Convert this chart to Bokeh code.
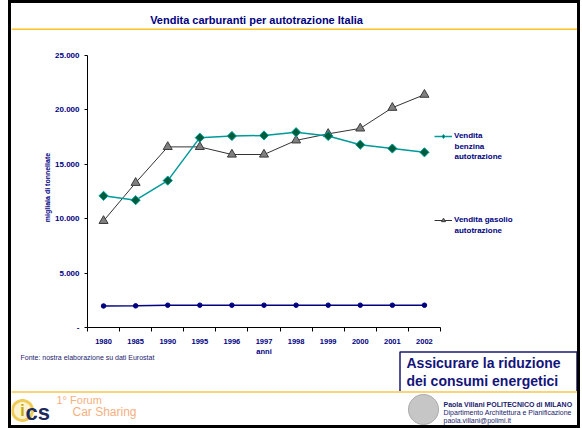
import math
from bokeh.plotting import figure
from bokeh.layouts import column, row, Spacer
from bokeh.models import (Range1d, LinearAxis, FixedTicker, Label, BoxAnnotation,
                          PolyAnnotation, Legend, LegendItem, Div)
from bokeh.embed import file_html
from bokeh.resources import INLINE

# ---------------- data ----------------
years = ["1980", "1985", "1990", "1995", "1996", "1997", "1998", "1999", "2000", "2001", "2002"]
benzina = [12100, 11700, 13500, 17450, 17600, 17650, 17950, 17600, 16800, 16450, 16100]
gasolio = [9800, 13300, 16600, 16600, 15900, 15900, 17200, 17800, 18300, 20200, 21400]
altro = [1980, 1990, 2050, 2050, 2050, 2050, 2050, 2050, 2050, 2050, 2050]
y_ticks = [0, 5000, 10000, 15000, 20000, 25000]
y_tick_labels = ["-", "5.000", "10.000", "15.000", "20.000", "25.000"]
legend_benzina = ["Vendita", "benzina", "autotrazione"]
legend_gasolio = ["Vendita gasolio", "autotrazione"]
title_text = "Vendita carburanti per autotrazione Italia"
x_title = "anni"
y_title = "migliaia di tonnellate"
source_text = "Fonte: nostra elaborazione su dati Eurostat"
box_lines = ["Assicurare la riduzione", "dei consumi energetici"]
footer_lines = ["Paola Villani POLITECNICO di MILANO",
                "Dipartimento Architettura e Pianificazione",
                "paola.villani@polimi.it"]
logo_lines = ["1° Forum", "Car Sharing"]

# ---------------- layout constants (page pixels) ----------------
PAGE_H = 428
IN_X0, IN_X1 = 11, 577      # inside of the slide frame
IN_Y0, IN_Y1 = 3, 425
TOP_Y = 47                  # chart band top
MID_Y = 346                 # chart band bottom
FRAME_L, FRAME_B = 87, 327
Y_25K = 55                  # pixel row of 25000
PX_CAT = 32.09
NAVY = "#000080"
TXT = "#1a1a6e"
FONT = "Liberation Sans"


def solid(w, h, color):
    html = f'<div style="width:{w}px;height:{h}px;background:{color};margin:0;padding:0"></div>'
    return Div(text=html, width=w, height=h, margin=0,
               styles={"background-color": color, "overflow": "hidden"})


def deco(x0, x1, y0, y1):
    f = figure(width=x1 - x0, height=y1 - y0, x_range=Range1d(x0, x1),
               y_range=Range1d(y1, y0), x_axis_type=None, y_axis_type=None,
               toolbar_location=None, output_backend="svg", min_border=0)
    f.outline_line_color = None
    f.background_fill_color = "white"
    f.border_fill_color = "white"
    return f


def box(f, l, r, t, b, color):
    f.add_layout(BoxAnnotation(left=l, right=r, top=t, bottom=b, fill_color=color,
                               fill_alpha=1, line_color=None))


def label(f, x, y, text, size, color=TXT, bold=False, align="left", baseline="middle"):
    f.add_layout(Label(x=x, y=y, text=text, text_font=FONT, text_font_size=size,
                       text_font_style="bold" if bold else "normal",
                       text_color=color, text_align=align, text_baseline=baseline))


def disc(f, cx, cy, r, fill, line=None):
    n = 48
    px = [cx + r * math.cos(2 * math.pi * k / n) for k in range(n)]
    py = [cy + r * math.sin(2 * math.pi * k / n) for k in range(n)]
    f.add_layout(PolyAnnotation(xs=px, ys=py, fill_color=fill, fill_alpha=1,
                                line_color=line if line else "white",
                                line_alpha=1 if line else 0, line_width=1))


# ---------------- top band ----------------
T = deco(IN_X0, IN_X1, IN_Y0, TOP_Y)
box(T, IN_X0, IN_X1, 28, 29.6, "#FFC125")
label(T, 256, 19, title_text, "11px", color=NAVY, bold=True, align="center")

# ---------------- chart ----------------
FW = IN_X1 - FRAME_L
FH = FRAME_B - TOP_Y
x_range = Range1d(-0.5, -0.5 + FW / PX_CAT)
y_range = Range1d(0, 25000 * FH / (FRAME_B - Y_25K))

C = figure(width=IN_X1 - IN_X0, height=MID_Y - TOP_Y, x_range=x_range, y_range=y_range,
           x_axis_type=None, y_axis_type=None, toolbar_location=None,
           output_backend="svg", min_border_left=FRAME_L - IN_X0, min_border_right=0,
           min_border_top=0, min_border_bottom=MID_Y - FRAME_B)
C.outline_line_color = None
C.background_fill_color = "white"
C.border_fill_color = "white"

xaxis = LinearAxis(bounds=(-0.5, len(years) - 0.5),
                   ticker=FixedTicker(ticks=list(range(len(years))),
                                      minor_ticks=[i - 0.5 for i in range(len(years) + 1)]),
                   major_label_overrides={i: y for i, y in enumerate(years)},
                   major_tick_out=0, major_tick_in=0, minor_tick_out=4, minor_tick_in=0,
                   axis_line_color="black", major_tick_line_color="black",
                   minor_tick_line_color="black", major_label_standoff=7,
                   major_label_text_font=FONT, major_label_text_font_style="bold",
                   major_label_text_font_size="7.5px", major_label_text_color=NAVY)
C.add_layout(xaxis, "below")

yaxis = LinearAxis(bounds=(0, 25000),
                   ticker=FixedTicker(ticks=y_ticks, minor_ticks=[]),
                   major_label_overrides=dict(zip(y_ticks, y_tick_labels)),
                   major_tick_out=3, major_tick_in=0, minor_tick_out=0, minor_tick_in=0,
                   axis_line_color="black", major_tick_line_color="black",
                   major_label_standoff=5,
                   major_label_text_font=FONT, major_label_text_font_style="bold",
                   major_label_text_font_size="8px", major_label_text_color=NAVY,
                   axis_label=y_title, axis_label_standoff=1,
                   axis_label_text_font=FONT, axis_label_text_font_style="bold",
                   axis_label_text_font_size="7px", axis_label_text_color=NAVY)
C.add_layout(yaxis, "left")

xs = list(range(len(years)))
C.line(xs, altro, color=NAVY, line_width=1.5)
C.scatter(xs, altro, marker="circle", size=4.5, fill_color=NAVY, line_color=NAVY)
l2 = C.line(xs, gasolio, color="#333333", line_width=1)
s2 = C.scatter(xs, gasolio, marker="triangle", size=9, fill_color="#808080",
               line_color="#3a3a3a", line_width=1)
l1 = C.line(xs, benzina, color="#009a9a", line_width=1.5)
# small diamond (hidden below the rotated squares) used as legend glyph
d1 = C.scatter(xs, benzina, marker="diamond", size=7, fill_color="#005c3a",
               line_color="#00a3a3", line_width=1)
C.scatter(xs, benzina, marker="square", angle=math.pi / 4, size=6.5,
          fill_color="#005c3a", line_color="#00a3a3", line_width=1)

# legend (first line of each entry is the legend label; further lines as labels)
LEG_X = 434
ITEM1_Y, ITEM2_Y = 135.5, 219.5
legend = Legend(items=[LegendItem(label=legend_benzina[0], renderers=[l1, d1]),
                       LegendItem(label=legend_gasolio[0], renderers=[l2, s2])],
                location=(LEG_X - FRAME_L, FRAME_B - (ITEM2_Y + 5)),
                glyph_width=18, glyph_height=10, label_standoff=2,
                spacing=int(ITEM2_Y - ITEM1_Y - 10), padding=0, margin=0,
                label_height=10, label_width=10,
                border_line_color=None, background_fill_alpha=0,
                label_text_font=FONT, label_text_font_style="bold",
                label_text_font_size="8px", label_text_color=NAVY)
C.add_layout(legend)

for first_y, lines in ((ITEM1_Y, legend_benzina), (ITEM2_Y, legend_gasolio)):
    for k, txt in enumerate(lines[1:], start=1):
        C.add_layout(Label(x=LEG_X + 20 - FRAME_L, y=FRAME_B - (first_y + 10 * k),
                           x_units="screen", y_units="screen", text=txt,
                           text_font=FONT, text_font_size="8px", text_font_style="bold",
                           text_color=NAVY, text_align="left", text_baseline="middle"))

# ---------------- bottom band ----------------
B = deco(IN_X0, IN_X1, MID_Y, IN_Y1)
label(B, 263.5, 351, x_title, "7.5px", color=NAVY, bold=True, align="center")
label(B, 20, 357, source_text, "7px")

B.add_layout(BoxAnnotation(left=399.5, right=576.5, top=351.5, bottom=391.5,
                           fill_alpha=0, line_color="#1a1a70", line_width=1.5,
                           line_alpha=1))
label(B, 406, 362.5, box_lines[0], "14px", color="#14147a", bold=True)
label(B, 406, 380, box_lines[1], "14px", color="#14147a", bold=True)
box(B, IN_X0, IN_X1, 390.5, 392.5, "#F9D57A")

disc(B, 423, 409, 15, "#c6c6c6", "#a8a8a8")
label(B, 443, 403.5, footer_lines[0], "7px", bold=True)
label(B, 443, 411.5, footer_lines[1], "7px")
label(B, 443, 419.5, footer_lines[2], "7px")

disc(B, 22, 410, 11.5, "#EFCB58")
disc(B, 22, 410, 8.5, "#FBF3D0")
label(B, 22, 410, "i", "16px", color="#C9A800", bold=True, align="center")
label(B, 25, 411.5, "cs", "22px", color="#1c2a5c", bold=True)
label(B, 56, 399, logo_lines[0], "11px", color="#F6B080")
label(B, 72, 411, logo_lines[1], "12px", color="#F6B080")

# ---------------- slide frame ----------------
inner = column(solid(IN_X1 - IN_X0, IN_Y0, "black"), T, row(C), B,
               solid(IN_X1 - IN_X0, PAGE_H - IN_Y1, "black"))
page = row(Spacer(width=IN_X0 - 3, height=PAGE_H), solid(3, PAGE_H, "black"),
           inner, solid(3, PAGE_H, "black"))
open("out.html", "w").write(file_html(page, INLINE))
